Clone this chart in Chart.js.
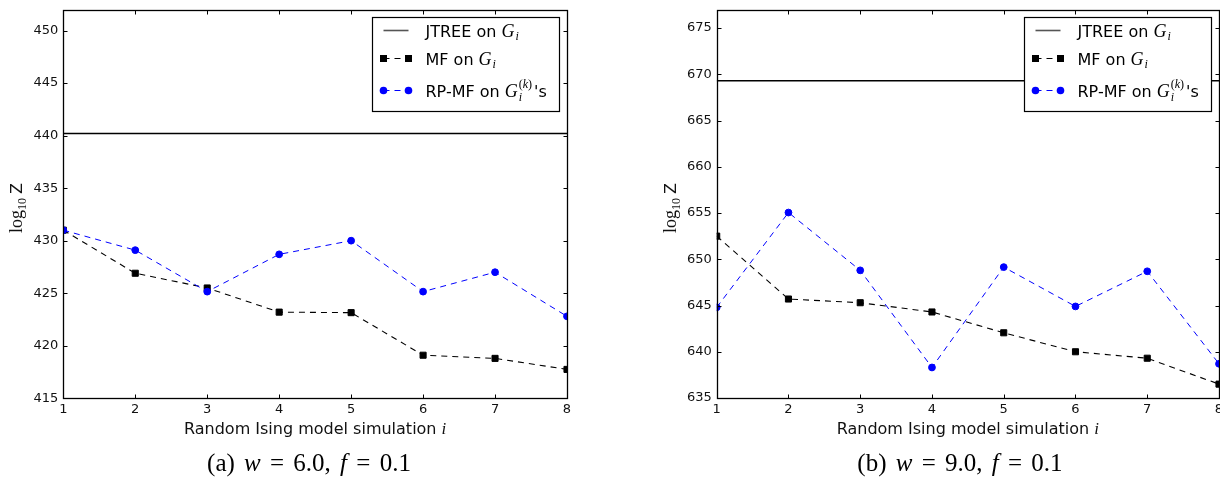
<!DOCTYPE html>
<html>
<head>
<meta charset="utf-8">
<script src="https://cdn.jsdelivr.net/npm/chart.js@4.4.1/dist/chart.umd.min.js"></script>
<style>
  html, body { margin: 0; padding: 0; background: #fff; }
  body { width: 1220px; height: 482px; position: relative; overflow: hidden; }
  .panel { position: absolute; top: 0; height: 482px; overflow: hidden; }
  .caption { position: absolute; top: 450px; line-height: 25px; font-family: "Liberation Serif", serif;
             font-size: 25px; color: #000; white-space: nowrap; transform: translateX(-50%); word-spacing: 3px; }
</style>
</head>
<body>
<div class="panel" style="left:0;width:610px"><canvas id="chartA" width="610" height="482"></canvas></div>
<div class="panel" style="left:610px;width:610px"><canvas id="chartB" width="640" height="482"></canvas></div>
<div class="caption" style="left:309px">(a) <i>w</i> = 6.0, <i>f</i> = 0.1</div>
<div class="caption" style="left:960px">(b) <i>w</i> = 9.0, <i>f</i> = 0.1</div>
<script>
// simulations on the x axis
const simulations = [1, 2, 3, 4, 5, 6, 7, 8];

// (a) w = 6.0, f = 0.1
const jtreeA = [440.2, 440.2, 440.2, 440.2, 440.2, 440.2, 440.2, 440.2];
const mfA = [431.0, 426.9, 425.5, 423.2, 423.15, 419.1, 418.8, 417.75];
const rpmfA = [431.0, 429.1, 425.15, 428.7, 430.0, 425.15, 427.0, 422.8];
const yTicksA = [415, 420, 425, 430, 435, 440, 445, 450];

// (b) w = 9.0, f = 0.1
const jtreeB = [669.3, 669.3, 669.3, 669.3, 669.3, 669.3, 669.3, 669.3];
const mfB = [652.5, 645.7, 645.3, 644.3, 642.05, 640.0, 639.3, 636.5];
const rpmfB = [644.8, 655.05, 648.8, 638.3, 649.15, 644.9, 648.7, 638.7];
const yTicksB = [635, 640, 645, 650, 655, 660, 665, 670, 675];

const SANS = '"DejaVu Sans", sans-serif';
const SERIF = '"Liberation Serif", serif';

// a run is {t, font, dy, gap} or {stack: [[runs], [runs]]} for a sub/sup pair drawn at the same x
function runsWidth(ctx, runs) {
    let total = 0;
    runs.forEach(r => {
        if (r.stack) {
            total += Math.max(...r.stack.map(line => runsWidth(ctx, line))) + (r.gap || 0);
        } else {
            ctx.font = r.font;
            total += ctx.measureText(r.t).width + (r.gap || 0);
        }
    });
    return total;
}

function drawRuns(ctx, x, y, runs) {
    let cx = x;
    runs.forEach(r => {
        if (r.stack) {
            r.stack.forEach(line => drawRuns(ctx, cx, y, line));
            cx += Math.max(...r.stack.map(line => runsWidth(ctx, line))) + (r.gap || 0);
        } else {
            ctx.font = r.font;
            ctx.fillText(r.t, cx, y + (r.dy || 0));
            cx += ctx.measureText(r.t).width + (r.gap || 0);
        }
    });
}

const G = { t: 'G', font: 'italic 18px ' + SERIF, gap: 1 };
const subI = { t: 'i', font: 'italic 12px ' + SERIF, dy: 3 };

const legendRows = [
    [{ t: 'JTREE on ', font: '16px ' + SANS }, G, subI],
    [{ t: 'MF on ', font: '16px ' + SANS }, G, subI],
    [{ t: 'RP-MF on ', font: '16px ' + SANS }, G,
        { stack: [
            [{ t: 'i', font: 'italic 12px ' + SERIF, dy: 4 }],
            [{ t: '(', font: '12px ' + SERIF, dy: -9 },
             { t: 'k', font: 'italic 12px ' + SERIF, dy: -9 },
             { t: ')', font: '12px ' + SERIF, dy: -9 }]
        ], gap: 2 },
        { t: "'s", font: '16px ' + SANS }]
];

function pts(values) {
    return simulations.map((s, i) => ({ x: s, y: values[i] }));
}

function makePanel(id, cfg) {
    const frame = {
        id: 'frame',
        afterDraw(chart) {
            const { ctx, chartArea: a, scales } = chart;
            const L = Math.round(a.left) + 0.5, R = Math.round(a.right) + 0.5;
            const T = Math.round(a.top) + 0.5, B = Math.round(a.bottom) + 0.5;
            ctx.save();
            ctx.strokeStyle = '#000';
            ctx.lineWidth = 1;
            ctx.setLineDash([]);

            // inward ticks on all four sides
            ctx.beginPath();
            simulations.forEach(v => {
                const x = Math.round(scales.x.getPixelForValue(v)) + 0.5;
                ctx.moveTo(x, B); ctx.lineTo(x, B - 4);
                ctx.moveTo(x, T); ctx.lineTo(x, T + 4);
            });
            cfg.yTicks.forEach(v => {
                const y = Math.round(scales.y.getPixelForValue(v)) + 0.5;
                ctx.moveTo(L, y); ctx.lineTo(L + 4, y);
                ctx.moveTo(R, y); ctx.lineTo(R - 4, y);
            });
            ctx.stroke();
            ctx.lineWidth = 1.3;
            ctx.strokeRect(L, T, R - L, B - T);

            // legend
            const bw = 187, bh = 94;
            const bx = Math.round(a.right - 8 - bw) + 0.5, by = Math.round(a.top + 7) + 0.5;
            ctx.fillStyle = '#fff';
            ctx.fillRect(bx, by, bw, bh);
            ctx.lineWidth = 1.2;
            ctx.strokeRect(bx, by, bw, bh);
            const rowY = [a.top + 21, a.top + 49, a.top + 81];
            const x0 = bx + 11, x1 = bx + 36;
            // JTREE sample
            ctx.strokeStyle = '#555';
            ctx.lineWidth = 1.6;
            ctx.beginPath(); ctx.moveTo(x0, rowY[0]); ctx.lineTo(x1, rowY[0]); ctx.stroke();
            // MF sample
            ctx.lineWidth = 1;
            ctx.strokeStyle = '#000';
            ctx.setLineDash([6, 5]);
            ctx.beginPath(); ctx.moveTo(x0, rowY[1]); ctx.lineTo(x1, rowY[1]); ctx.stroke();
            ctx.fillStyle = '#000';
            ctx.fillRect(x0 - 3.5, rowY[1] - 3.5, 7, 7);
            ctx.fillRect(x1 - 3.5, rowY[1] - 3.5, 7, 7);
            // RP-MF sample
            ctx.strokeStyle = '#0000ff';
            ctx.beginPath(); ctx.moveTo(x0, rowY[2]); ctx.lineTo(x1, rowY[2]); ctx.stroke();
            ctx.setLineDash([]);
            ctx.fillStyle = '#0000ff';
            [x0, x1].forEach(x => { ctx.beginPath(); ctx.arc(x, rowY[2], 3.8, 0, Math.PI * 2); ctx.fill(); });

            ctx.fillStyle = '#000';
            ctx.textBaseline = 'alphabetic';
            ctx.textAlign = 'left';
            legendRows.forEach((row, i) => drawRuns(ctx, bx + 53, rowY[i] + 6, row));

            // x axis title
            ctx.fillStyle = '#111';
            const xRuns = [{ t: 'Random Ising model simulation ', font: '16px ' + SANS },
                           { t: 'i', font: 'italic 17px ' + SERIF }];
            const xw = runsWidth(ctx, xRuns);
            drawRuns(ctx, (a.left + a.right) / 2 - xw / 2, 434, xRuns);

            // y axis title
            const yRuns = [{ t: 'log', font: '18px ' + SERIF },
                           { t: '10', font: '12px ' + SERIF, dy: 4, gap: 4 },
                           { t: 'Z', font: '16px ' + SANS }];
            const yw = runsWidth(ctx, yRuns);
            ctx.translate(a.left - 41, 208);
            ctx.rotate(-Math.PI / 2);
            drawRuns(ctx, -yw / 2, 0, yRuns);
            ctx.restore();
        }
    };

    const tickFont = { family: 'DejaVu Sans', size: 13 };

    return new Chart(document.getElementById(id), {
        type: 'line',
        data: {
            datasets: [
                { label: 'JTREE', data: pts(cfg.jtree), borderColor: '#000', borderWidth: 1.3,
                  pointRadius: 0, order: 2, clip: 0 },
                { label: 'MF', data: pts(cfg.mf), borderColor: '#000', borderWidth: 1.1, borderDash: [6, 5],
                  pointStyle: 'rect', pointRadius: 4.3, pointBorderWidth: 1,
                  pointBackgroundColor: '#000', pointBorderColor: '#000', order: 1, clip: 0 },
                { label: 'RP-MF', data: pts(cfg.rpmf), borderColor: '#0000ff', borderWidth: 1, borderDash: [6, 5],
                  pointStyle: 'circle', pointRadius: 3.4, pointBorderWidth: 1,
                  pointBackgroundColor: '#0000ff', pointBorderColor: '#0000ff', order: 0, clip: 0 }
            ]
        },
        options: {
            responsive: false,
            animation: false,
            devicePixelRatio: 1,
            layout: { padding: cfg.padding },
            elements: { line: { tension: 0 } },
            plugins: { legend: { display: false }, tooltip: { enabled: false } },
            scales: {
                x: {
                    type: 'linear', min: 1, max: 8,
                    grid: { display: false, drawTicks: false },
                    border: { display: false },
                    afterBuildTicks: s => { s.ticks = simulations.map(v => ({ value: v })); },
                    afterFit: s => { s.height = 30; s.paddingLeft = 0; s.paddingRight = 0; },
                    ticks: { font: tickFont, color: '#111', padding: 4, maxRotation: 0, autoSkip: false }
                },
                y: {
                    type: 'linear', min: cfg.yMin, max: cfg.yMax,
                    grid: { display: false, drawTicks: false },
                    border: { display: false },
                    afterBuildTicks: s => { s.ticks = cfg.yTicks.map(v => ({ value: v })); },
                    afterFit: s => { s.width = 45; s.paddingTop = 0; s.paddingBottom = 0; },
                    ticks: { font: tickFont, color: '#111', padding: 5, autoSkip: false }
                }
            }
        },
        plugins: [frame]
    });
}

makePanel('chartA', {
    jtree: jtreeA, mf: mfA, rpmf: rpmfA, yTicks: yTicksA, yMin: 415, yMax: 452,
    padding: { left: 18.3, right: 43, top: 9.5, bottom: 53.7 }
});
makePanel('chartB', {
    jtree: jtreeB, mf: mfB, rpmf: rpmfB, yTicks: yTicksB, yMin: 635, yMax: 677,
    padding: { left: 61.7, right: 31, top: 9.5, bottom: 54 }
});
</script>
</body>
</html>
